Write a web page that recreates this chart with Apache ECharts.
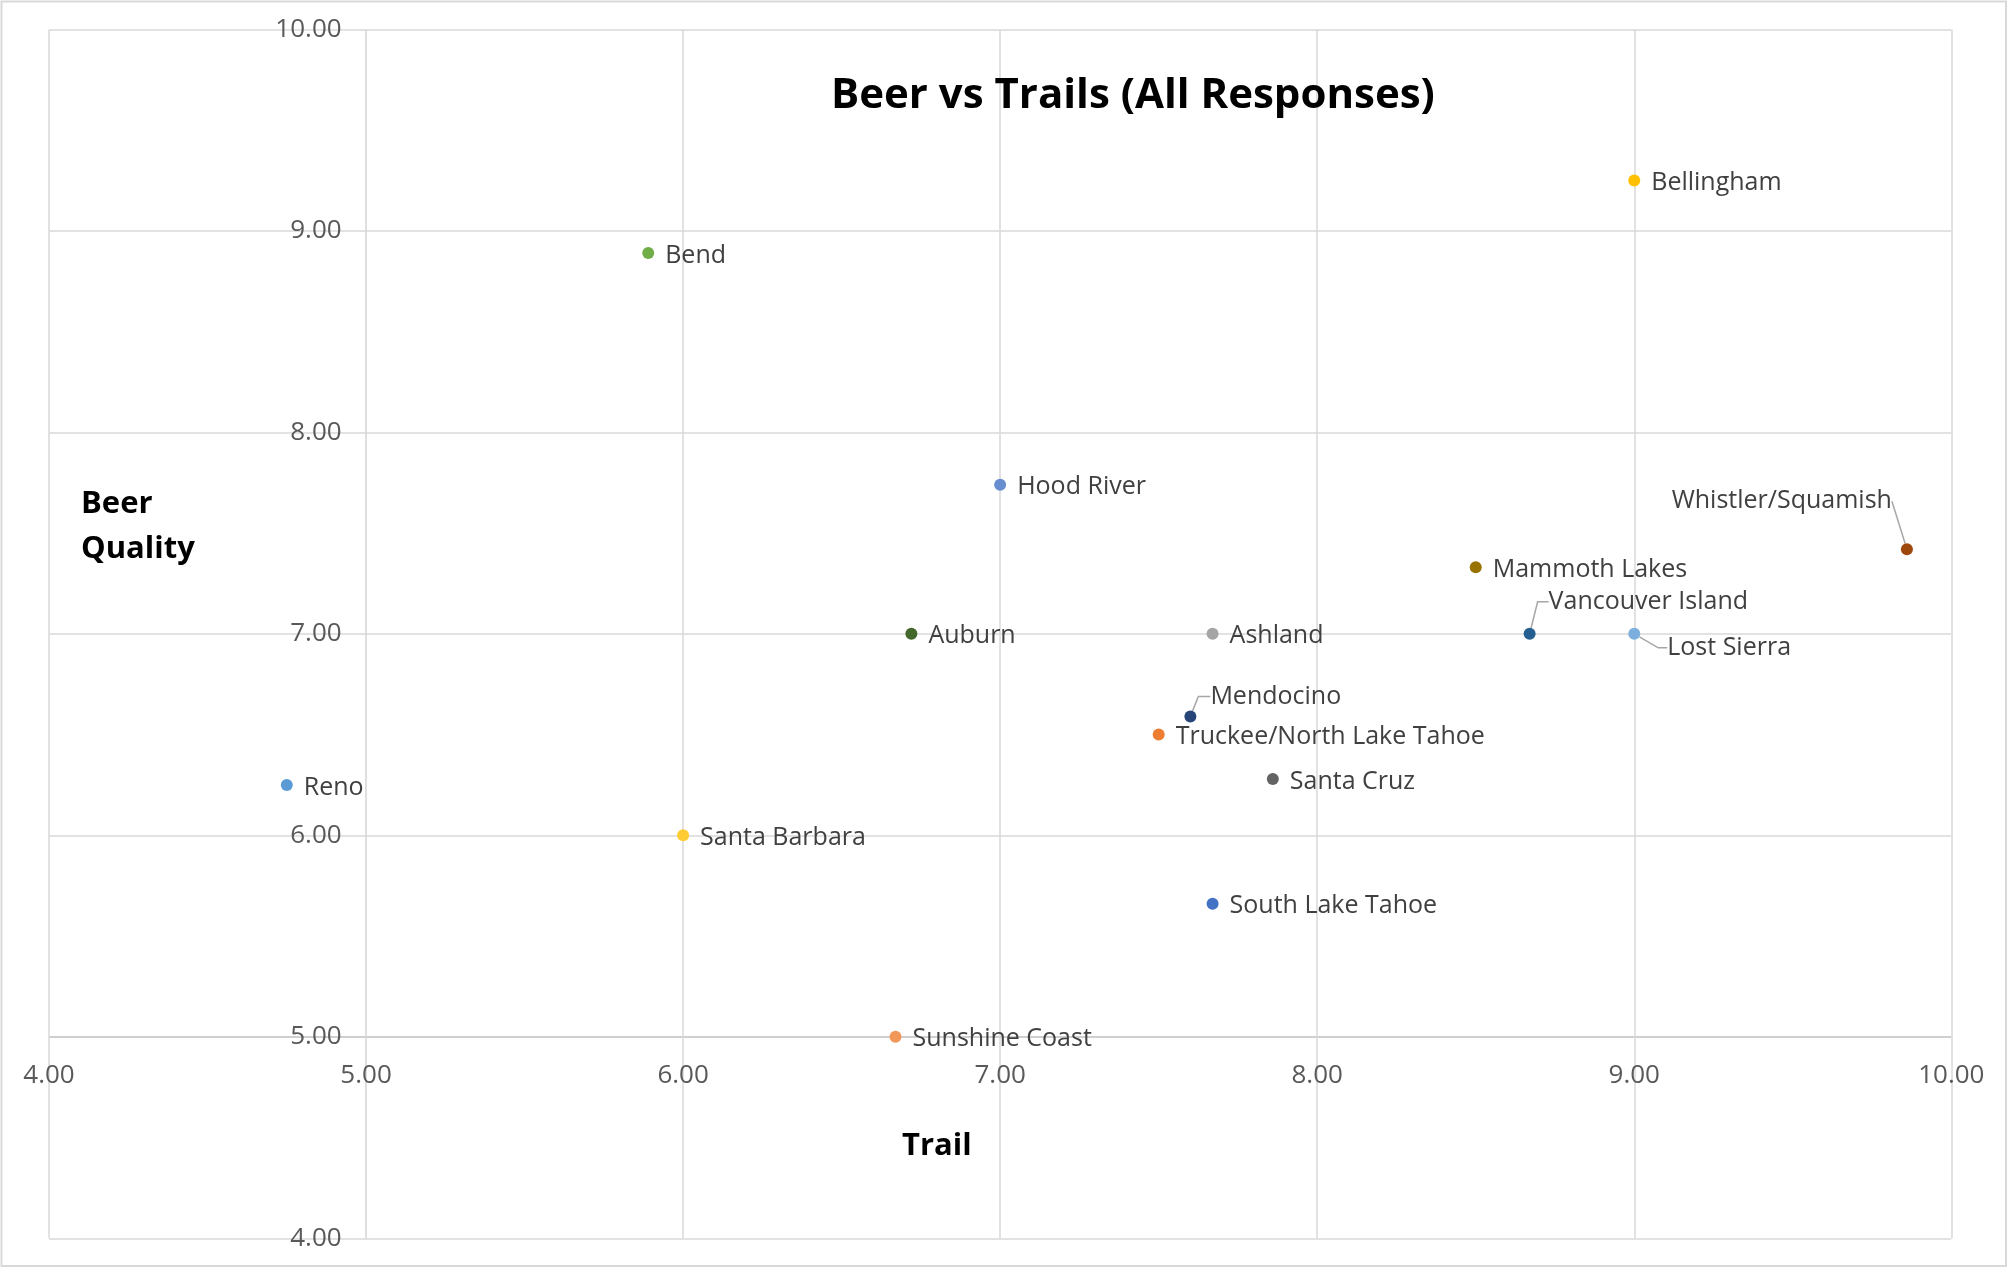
<!DOCTYPE html>
<html>
<head>
<meta charset="utf-8">
<script src="https://cdn.jsdelivr.net/npm/echarts@6/dist/echarts.min.js"></script>
<style>
  html, body { margin: 0; padding: 0; background: #ffffff; }
  #chart { width: 2008px; height: 1268px; }
</style>
</head>
<body>
<div id="chart"></div>
<script>
// ---- data ----
const cities = ['South Lake Tahoe', 'Truckee/North Lake Tahoe', 'Ashland', 'Bellingham', 'Reno', 'Bend',
  'Mendocino', 'Whistler/Squamish', 'Santa Cruz', 'Mammoth Lakes', 'Vancouver Island', 'Auburn',
  'Hood River', 'Sunshine Coast', 'Santa Barbara', 'Lost Sierra'];
const trail = [7.67, 7.50, 7.67, 9.00, 4.75, 5.89, 7.60, 9.86, 7.86, 8.50, 8.67, 6.72, 7.00, 6.67, 6.00, 9.00];
const beer  = [5.66, 6.50, 7.00, 9.25, 6.25, 8.89, 6.59, 7.42, 6.28, 7.33, 7.00, 7.00, 7.74, 5.00, 6.00, 7.00];
const palette = ['#4472C4', '#ED7D31', '#A5A5A5', '#FFC000', '#5B9BD5', '#70AD47', '#264478', '#9E480E',
  '#636363', '#997300', '#255E91', '#43682B', '#698ED0', '#F1975A', '#FFCD33', '#7CAFDD'];
const xTicks = [4, 5, 6, 7, 8, 9, 10];
const yTicks = [4, 5, 6, 7, 8, 9, 10];
const xCross = 5;   // vertical axis crosses at Trail = 5
const yCross = 5;   // horizontal axis crosses at Beer = 5
const chartTitle = 'Beer vs Trails (All Responses)';
const xName = 'Trail';
const yName = 'Beer\nQuality';

// ---- label placement tweaks (moved labels with leader lines) ----
const FONT = '"Open Sans", "Noto Sans", sans-serif';
const moved = {
  'Whistler/Squamish': { position: 'left', dx: 2, dy: -48, padding: 0, length2: 0 },
  'Vancouver Island': { position: 'right', dx: -6, dy: -32, padding: [0, 0, 0, 8], length2: 11 },
  'Mendocino': { position: 'right', dx: -5, dy: -20, padding: [0, 0, 0, 8], length2: 12 },
  'Lost Sierra': { position: 'right', dx: 8, dy: 14, padding: [0, 0, 0, 8], length2: 9 }
};

const series = cities.map((name, i) => {
  const m = moved[name];
  const s = {
    type: 'scatter',
    name: name,
    data: [[trail[i], beer[i]]],
    symbol: 'circle',
    symbolSize: 12,
    itemStyle: { color: palette[i], opacity: 1 },
    emphasis: { disabled: true },
    label: {
      show: true,
      formatter: '{a}',
      position: m ? m.position : 'right',
      distance: 11,
      offset: [0, 2.5],
      color: '#404040',
      fontSize: 25,
      fontFamily: FONT,
      padding: m ? m.padding : 0
    }
  };
  if (m) {
    s.labelLayout = { dx: m.dx, dy: m.dy };
    s.labelLine = { show: true, length2: m.length2, smooth: false, minTurnAngle: 0,
      lineStyle: { color: '#a6a6a6', width: 1.5 } };
  }
  return s;
});

const gridColor = '#d9d9d9';
const axisColor = '#bfbfbf';

const option = {
  animation: false,
  backgroundColor: '#ffffff',
  color: palette,
  title: [
    { text: chartTitle, left: 831, top: 75, padding: 0,
      textStyle: { fontFamily: FONT, fontWeight: 'bold', fontSize: 42, color: '#000000' } },
    { text: yName, left: 81, top: 482, padding: 0,
      textStyle: { fontFamily: FONT, fontWeight: 'bold', fontSize: 31, lineHeight: 45, color: '#000000' } },
    { text: xName, left: 902, top: 1131, padding: 0,
      textStyle: { fontFamily: FONT, fontWeight: 'bold', fontSize: 31, color: '#000000' } }
  ],
  graphic: [{
    type: 'rect', silent: true, z: -1,
    shape: { x: 1.5, y: 1.5, width: 2004.5, height: 1264.5 },
    style: { fill: 'none', stroke: gridColor, lineWidth: 2 }
  }],
  grid: { left: 49, right: 56.7, top: 29.4, bottom: 29.7 },
  xAxis: {
    type: 'value', min: xTicks[0], max: xTicks[xTicks.length - 1], interval: 1,
    axisLine: { show: false },
    axisTick: { show: false },
    axisLabel: { formatter: v => v.toFixed(2), color: '#595959', fontSize: 26, fontFamily: FONT, margin: 23 },
    splitLine: { show: true, lineStyle: { color: xTicks.map(v => v === xCross ? '#d4d4d4' : gridColor), width: 1.5 } }
  },
  yAxis: {
    type: 'value', min: yTicks[0], max: yTicks[yTicks.length - 1], interval: 1,
    axisLine: { show: false },
    axisTick: { show: false },
    axisLabel: { formatter: v => v.toFixed(2), color: '#595959', fontSize: 26, fontFamily: FONT, margin: 18 },
    splitLine: { show: true, lineStyle: { color: yTicks.map(v => v === yCross ? axisColor : gridColor), width: 1.5 } }
  },
  series: series
};

const chart = echarts.init(document.getElementById('chart'), null, { renderer: 'canvas' });
chart.setOption(option);
// move the axes (labels) so they cross at (xCross, yCross)
const xMinPx = chart.convertToPixel({ xAxisIndex: 0 }, xTicks[0]);
const xCrossPx = chart.convertToPixel({ xAxisIndex: 0 }, xCross);
const yMinPx = chart.convertToPixel({ yAxisIndex: 0 }, yTicks[0]);
const yCrossPx = chart.convertToPixel({ yAxisIndex: 0 }, yCross);
chart.setOption({
  xAxis: { offset: -(yMinPx - yCrossPx) },
  yAxis: { offset: -(xCrossPx - xMinPx) }
});
</script>
</body>
</html>
